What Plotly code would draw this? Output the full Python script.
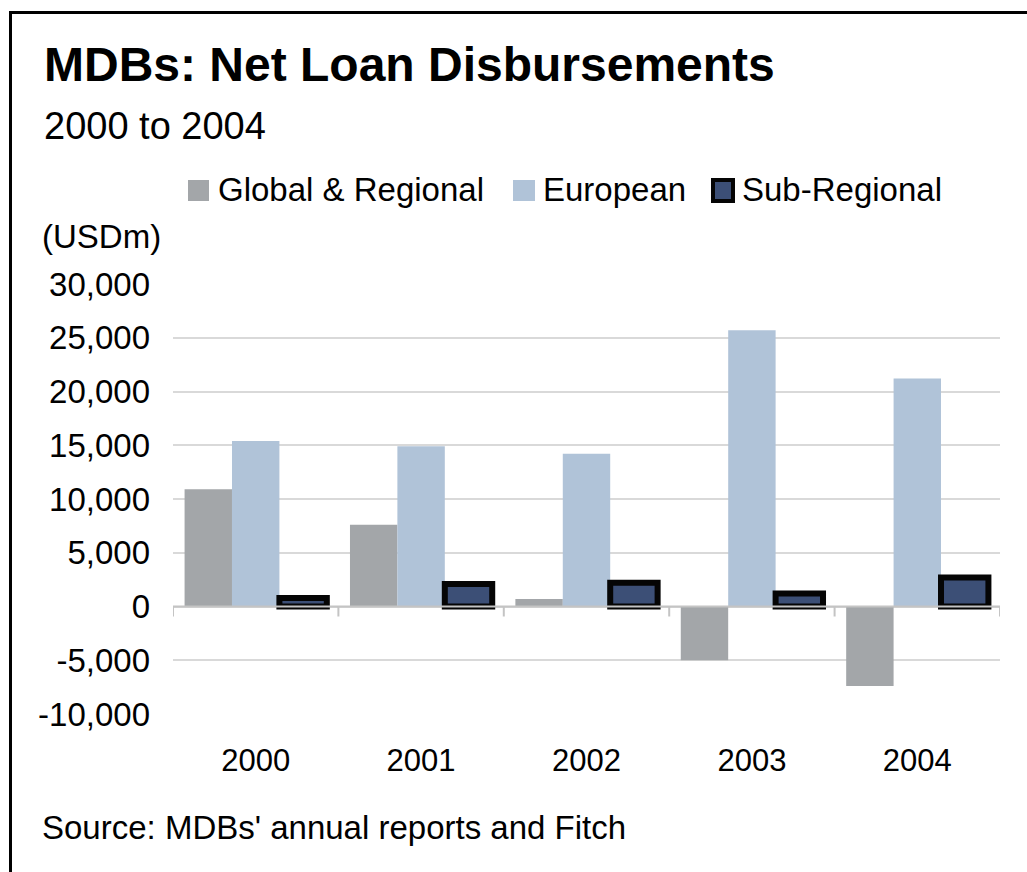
import plotly.graph_objects as go

# --- data -------------------------------------------------------------
years = ["2000", "2001", "2002", "2003", "2004"]
global_regional = [10900, 7600, 700, -5000, -7400]
european = [15400, 14900, 14200, 25700, 21200]
sub_regional = [800, 2100, 2200, 1200, 2700]

series_names = ["Global & Regional", "European", "Sub-Regional"]
y_ticks = [-10000, -5000, 0, 5000, 10000, 15000, 20000, 25000, 30000]

# --- styling ----------------------------------------------------------
FONT = "Liberation Sans, Arial, sans-serif"
GREY = "#a3a6a9"
LIGHT_BLUE = "#b0c3d8"
NAVY = "#3c4f76"
GRID = "#d9d9d9"
AXIS = "#c4c4c4"

W, H = 1027, 872
ML, MR, MT, MB = 173, 27, 284, 158
PW, PH = W - ML - MR, H - MT - MB


def px(x):
    """Pixel x -> paper x."""
    return (x - ML) / PW


def py(y):
    """Pixel y (from top) -> paper y."""
    return (H - MB - y) / PH


fig = go.Figure()
fig.add_trace(go.Bar(x=years, y=global_regional, name=series_names[0],
                     marker=dict(color=GREY, line=dict(width=0)), showlegend=False))
fig.add_trace(go.Bar(x=years, y=european, name=series_names[1],
                     marker=dict(color=LIGHT_BLUE, line=dict(width=0)), showlegend=False))
fig.add_trace(go.Bar(x=years, y=sub_regional, name=series_names[2],
                     marker=dict(color=NAVY, line=dict(width=6, color="#050505")),
                     showlegend=False))

annotations = [
    dict(text="<b>MDBs: Net Loan Disbursements</b>", x=px(42), y=py(64.5),
         font=dict(size=48, color="#000")),
    dict(text="2000 to 2004", x=px(42), y=py(126), font=dict(size=38, color="#000")),
    dict(text="(USDm)", x=px(40), y=py(237), font=dict(size=33, color="#000")),
    dict(text="Source: MDBs' annual reports and Fitch", x=px(40), y=py(827),
         font=dict(size=33, color="#000")),
]

# legend: coloured squares followed by the series names
legend_swatches = [
    (188, 209, GREY, None),
    (513, 535, LIGHT_BLUE, None),
    (713, 733, NAVY, "#050505"),
]
legend_text_x = [216, 541, 740]
shapes = []
for (x0, x1, fill, edge), tx, name in zip(legend_swatches, legend_text_x, series_names):
    shapes.append(dict(type="rect", xref="paper", yref="paper",
                       x0=px(x0), x1=px(x1), y0=py(201), y1=py(180),
                       fillcolor=fill,
                       line=dict(width=4 if edge else 0, color=edge or fill)))
    annotations.append(dict(text=name, x=px(tx), y=py(189),
                            font=dict(size=33, color="#000")))

for a in annotations:
    a.update(xref="paper", yref="paper", xanchor="left", yanchor="middle",
             showarrow=False, font=dict(family=FONT, **a["font"]))

# category axis line at zero with tick marks on the category boundaries
shapes.append(dict(type="line", xref="x", yref="y", x0=-0.5, x1=len(years) - 0.5,
                   y0=0, y1=0, line=dict(width=2, color=AXIS), layer="above"))
zero_px = H - MB - PH * (0 - y_ticks[0]) / (y_ticks[-1] - y_ticks[0])
for b in range(len(years) + 1):
    shapes.append(dict(type="line", xref="x", yref="paper", x0=b - 0.5, x1=b - 0.5,
                       y0=py(zero_px), y1=py(zero_px + 10),
                       line=dict(width=2, color=AXIS), layer="above"))

# outer frame
shapes.append(dict(type="rect", xref="paper", yref="paper",
                   x0=px(10.5), x1=px(W + 20), y0=py(H + 20), y1=py(12.5),
                   line=dict(width=3, color="#000"), fillcolor="rgba(0,0,0,0)",
                   layer="above"))

fig.update_layout(
    width=W, height=H,
    margin=dict(l=ML, r=MR, t=MT, b=MB, pad=0),
    paper_bgcolor="white", plot_bgcolor="white",
    barmode="group", bargap=0.14, bargroupgap=0,
    font=dict(family=FONT, color="#000"),
    xaxis=dict(type="category", categoryorder="array", categoryarray=years,
               range=[-0.5, 4.5], showgrid=False, showline=False, zeroline=False,
               ticks="", tickfont=dict(size=31, color="#000"),
               ticklabelstandoff=25),
    yaxis=dict(range=[y_ticks[0], y_ticks[-1]], tickmode="array", tickvals=y_ticks,
               ticktext=[f"{v:,}" for v in y_ticks],
               showgrid=True, gridcolor=GRID, gridwidth=2,
               zeroline=False, showline=False, ticks="",
               tickfont=dict(size=33, color="#000"), ticklabelstandoff=22),
    annotations=annotations,
    shapes=shapes,
)

fig.write_html("out.html")
